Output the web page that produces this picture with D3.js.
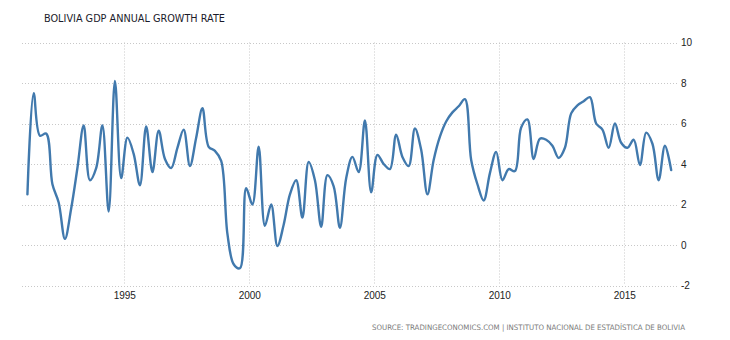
<!DOCTYPE html>
<html>
<head>
<meta charset="utf-8">
<script src="https://cdn.jsdelivr.net/npm/d3@7"></script>
<style>
  html, body { margin: 0; padding: 0; background: #fff; }
  svg { display: block; }
</style>
</head>
<body>
<svg id="chart" width="730" height="340"></svg>
<script>
// ---- data ----
const title = "BOLIVIA GDP ANNUAL GROWTH RATE";
const source = "SOURCE: TRADINGECONOMICS.COM | INSTITUTO NACIONAL DE ESTADÍSTICA DE BOLIVIA";
const startYear = 1991; // first quarter: 1991 Q1
const growth = [
  2.5, 7.5, 5.4, 5.5, 3.0, 2.1, 0.3, 1.8,
  3.8, 5.9, 3.2, 3.8, 5.9, 1.65, 8.1, 3.3,
  5.3, 4.5, 2.95, 5.85, 3.6, 5.65, 4.25, 3.8,
  4.8, 5.7, 3.9, 5.3, 6.75, 4.85, 4.65, 4.15,
  0.55, -0.95, -1.15, 2.8, 2.0, 4.85, 0.95, 2.0,
  -0.05, 1.0, 2.5, 3.2, 1.35, 4.1, 3.2, 0.9,
  3.45, 2.9, 0.85, 3.3, 4.35, 3.6, 6.15, 2.6,
  4.45, 4.0, 3.75, 5.45, 4.35, 3.9, 5.75, 4.7,
  2.5, 4.2, 5.35, 6.1, 6.55, 6.85, 7.2, 4.2,
  3.0, 2.2, 3.55, 4.6, 3.2, 3.75, 3.65, 5.8,
  6.2, 4.25, 5.25, 5.2, 4.9, 4.3, 4.8, 6.5,
  6.9, 7.1, 7.3, 6.0, 5.7, 4.8, 6.0, 5.05,
  4.8, 5.2, 3.95, 5.55, 5.0, 3.2, 4.9, 3.7
];
const xTicks = [1995, 2000, 2005, 2010, 2015];
const yTicks = [-2, 0, 2, 4, 6, 8, 10];

// quarterly points placed mid-quarter
const points = growth.map((v, i) => ({ t: startYear + 0.125 + 0.25 * i, v }));

// ---- layout ----
const svg = d3.select("#chart");
const plot = { left: 22, right: 677, top: 42.5, bottom: 285.5 };

const x = d3.scaleLinear()
  .domain([1990.908, 2017.108])
  .range([plot.left, plot.right]);
const y = d3.scaleLinear()
  .domain([-2, 10])
  .range([plot.bottom, plot.top]);

const grid = svg.append("g").attr("stroke", "#c8c8c8").attr("stroke-width", 1)
  .attr("stroke-dasharray", "1,2").attr("fill", "none");

grid.selectAll("line.h").data(yTicks).join("line")
  .attr("class", "h")
  .attr("x1", plot.left).attr("x2", plot.right)
  .attr("y1", d => Math.round(y(d)) + 0.5).attr("y2", d => Math.round(y(d)) + 0.5);

grid.selectAll("line.v").data(xTicks).join("line")
  .attr("class", "v")
  .attr("x1", d => Math.round(x(d)) + 0.5).attr("x2", d => Math.round(x(d)) + 0.5)
  .attr("y1", plot.top).attr("y2", plot.bottom);

// y labels on the right
const yAxis = d3.axisRight(y).tickValues(yTicks).tickSize(0).tickPadding(4).tickFormat(d => String(d));
svg.append("g")
  .attr("transform", `translate(${plot.right},0)`)
  .call(yAxis)
  .call(g => g.select(".domain").remove())
  .call(g => g.selectAll("text")
    .attr("font-family", "Liberation Sans, Arial, sans-serif")
    .attr("font-size", 10).attr("fill", "#222"));

// x labels
const xAxis = d3.axisBottom(x).tickValues(xTicks).tickSize(0).tickPadding(6).tickFormat(d => String(d));
svg.append("g")
  .attr("transform", `translate(0,${plot.bottom})`)
  .call(xAxis)
  .call(g => g.select(".domain").remove())
  .call(g => g.selectAll("text")
    .attr("font-family", "Liberation Sans, Arial, sans-serif")
    .attr("font-size", 10).attr("fill", "#222"));

// line
const line = d3.line()
  .x(d => x(d.t))
  .y(d => y(d.v))
  .curve(d3.curveCatmullRom.alpha(0.5));

svg.append("path")
  .datum(points)
  .attr("d", line)
  .attr("fill", "none")
  .attr("stroke", "#4179ad")
  .attr("stroke-width", 2.4)
  .attr("stroke-linejoin", "round")
  .attr("stroke-linecap", "round");

// title
svg.append("text")
  .attr("x", 44).attr("y", 22)
  .attr("font-family", "DejaVu Sans, Verdana, sans-serif")
  .attr("font-size", 10.5)
  .attr("fill", "#1a1a2a")
  .attr("textLength", 181)
  .attr("lengthAdjust", "spacingAndGlyphs")
  .text(title);

// source
svg.append("text")
  .attr("x", 372).attr("y", 330)
  .attr("font-family", "DejaVu Sans, Verdana, sans-serif")
  .attr("font-size", 7.5)
  .attr("fill", "#7a7a7a")
  .attr("textLength", 313)
  .attr("lengthAdjust", "spacingAndGlyphs")
  .text(source);
</script>
</body>
</html>
